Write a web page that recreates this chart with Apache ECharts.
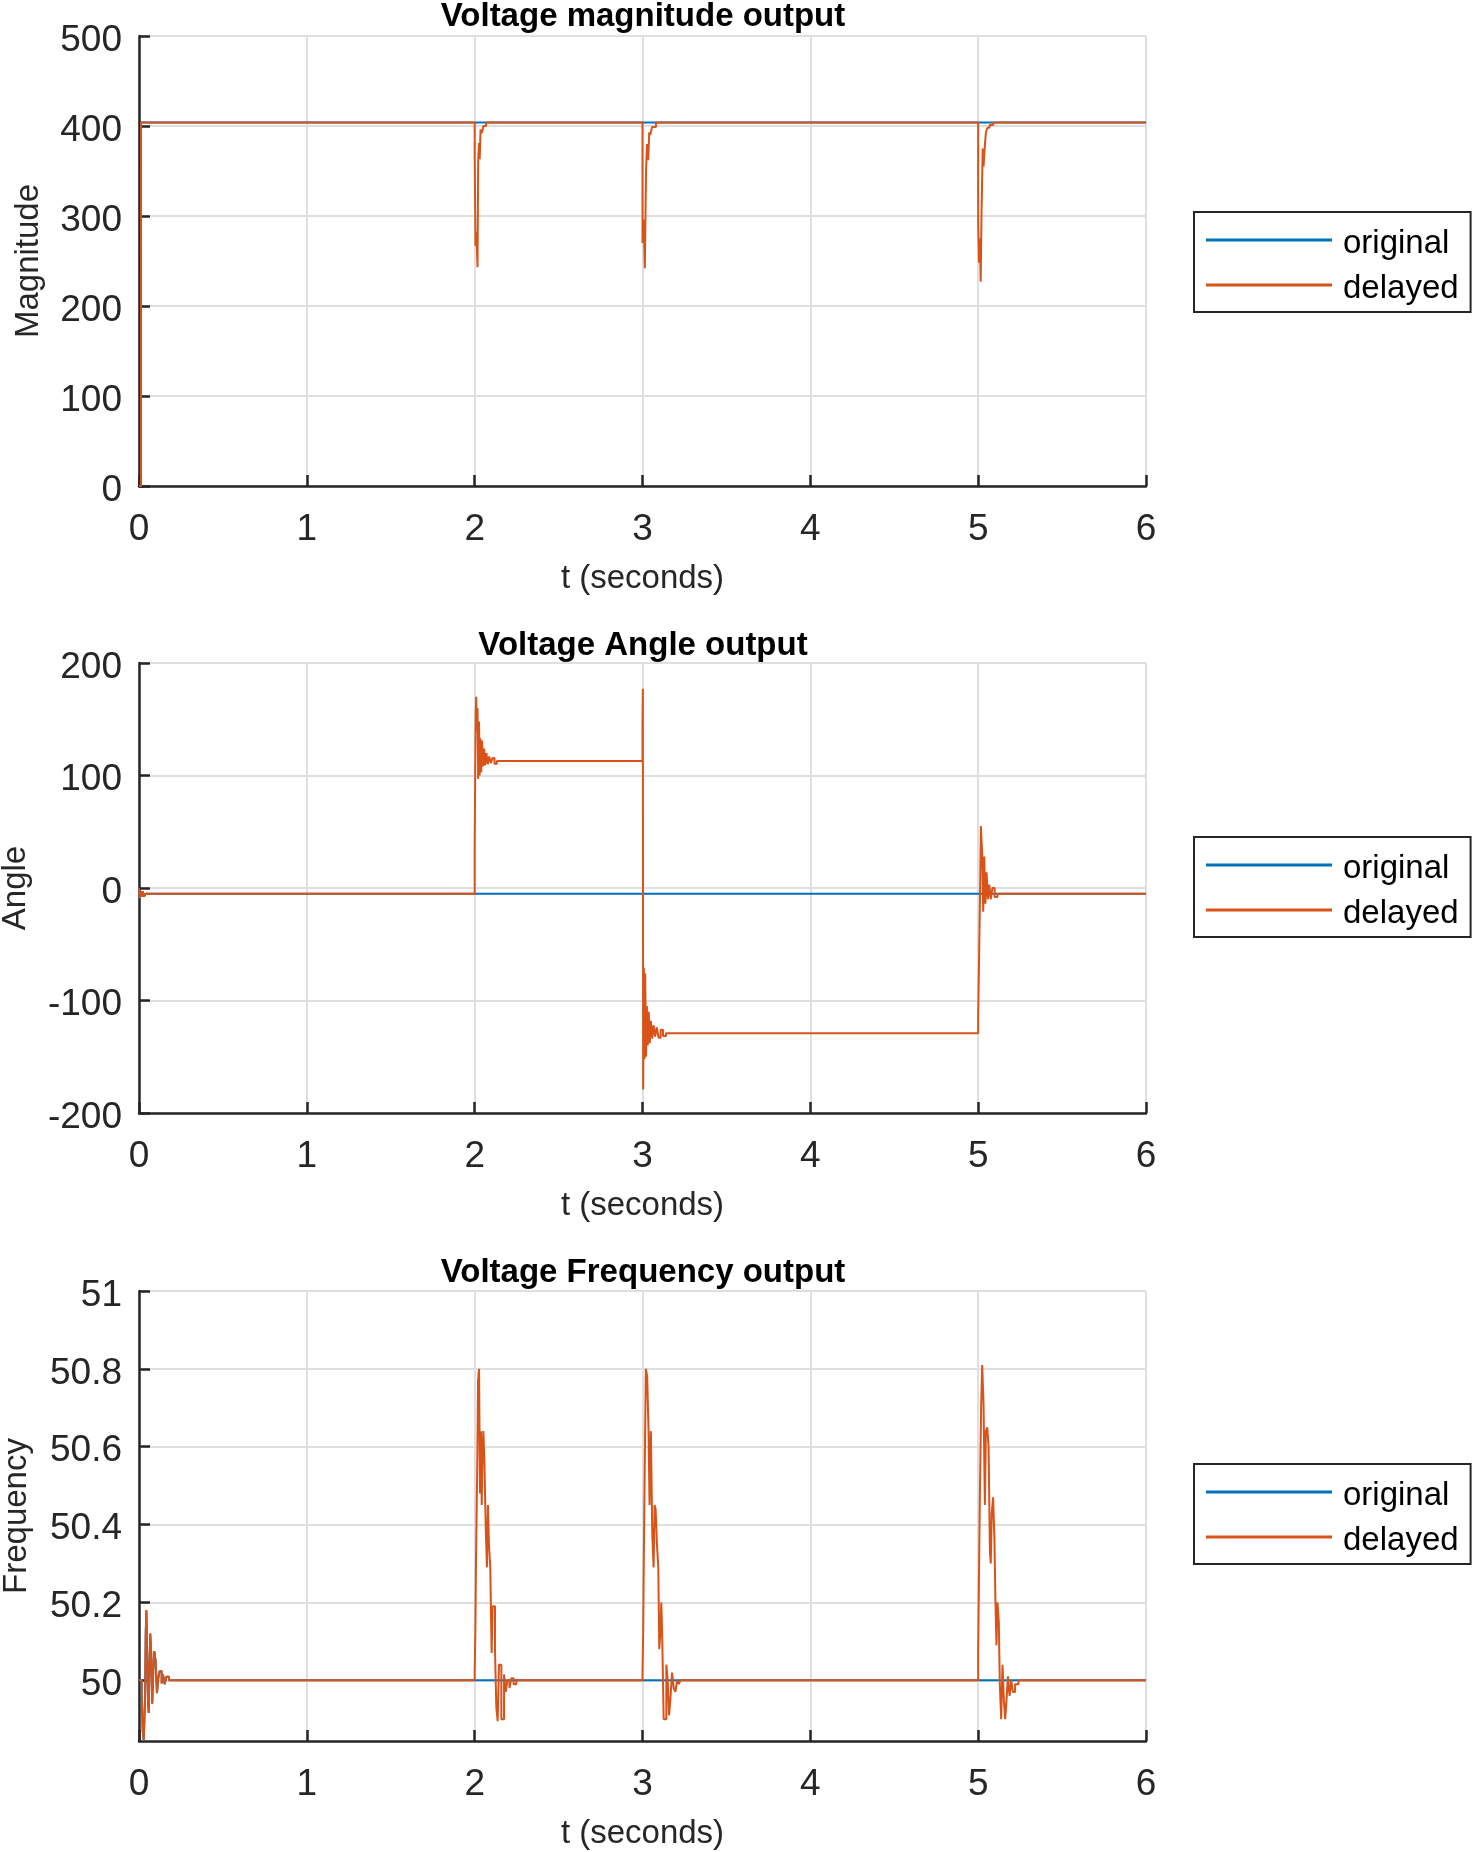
<!DOCTYPE html>
<html>
<head>
<meta charset="utf-8">
<title>Voltage outputs</title>
<script src="https://cdn.jsdelivr.net/npm/echarts@6/dist/echarts.min.js"></script>
<style>
  html, body { margin: 0; padding: 0; background: #fff; }
  #chart { width: 1474px; height: 1852px; }
</style>
</head>
<body>
<div id="chart"></div>
<script>
// time axis
const timeTicks = [0, 1, 2, 3, 4, 5, 6];

// magnitude (V)
const magOrigT = [0, 0.012, 6];
const magOrigV = [0, 404, 404];
const magDelT = [0, 0.012,
  2.000, 2.005, 2.009, 2.013, 2.017, 2.021, 2.026, 2.030, 2.035, 2.042, 2.052, 2.068,
  3.000, 3.005, 3.010, 3.014, 3.021, 3.027, 3.034, 3.040, 3.046, 3.057, 3.080,
  5.000, 5.005, 5.011, 5.015, 5.020, 5.027, 5.032, 5.041, 5.046, 5.055, 5.068, 5.090, 6];
const magDelV = [0, 404,
  370, 267, 282, 265, 243, 362, 381, 363, 396, 392, 400, 404,
  270, 296, 271, 242, 350, 380, 362, 393, 390, 399, 404,
  294, 248, 275, 227, 303, 375, 355, 381, 393, 398, 401, 404, 404];

// angle (deg)
const angStartT = [0, 0.005, 0.010, 0.016, 0.022, 0.030, 0.040];
const angStartV = [0, -9, -3, -7.5, -3, -7.5, -5];
const angOrigT = [6];
const angOrigV = [-5];
const angDelT = [
  2.000, 2.003, 2.006, 2.009, 2.013, 2.017, 2.021, 2.026, 2.030, 2.034, 2.039,
  2.044, 2.050, 2.056, 2.063, 2.070, 2.078, 2.087, 2.096, 2.106, 2.118, 2.132,
  3.000, 3.002, 3.004, 3.008, 3.012, 3.016, 3.021, 3.026, 3.031, 3.037,
  3.043, 3.050, 3.058, 3.066, 3.075, 3.085, 3.096, 3.108, 3.122, 3.140,
  5.000, 5.006, 5.012, 5.016, 5.024, 5.030, 5.036, 5.043,
  5.050, 5.058, 5.066, 5.075, 5.085, 5.098, 5.115, 6];
const angDelV = [
  35, 99, 153, 170, 140, 160, 97, 148, 100, 133, 103,
  131, 108, 124, 109, 120, 110, 117, 111, 115.5, 110.5, 113,
  144, 177, -179, -71, -152, -76, -150, -105, -140, -110,
  -138, -118, -134, -122, -132, -124, -133, -126, -131.5, -129,
  -116.5, -57, 4, 55, 30, -21, 28, -14,
  14, -10, 3, -10, 0, -8, -5, -5];

// frequency (Hz)
const freqTicks = [50, 50.2, 50.4, 50.6, 50.8, 51];
const freqStartT = [0, 0.016, 0.022, 0.028, 0.036, 0.040, 0.044, 0.048, 0.054, 0.058, 0.063, 0.067,
  0.073, 0.079, 0.085, 0.091, 0.099, 0.107, 0.115, 0.123, 0.135, 0.143, 0.153, 0.163, 0.179];
const freqStartV = [50, 49.97, 49.87, 49.846, 49.95, 50.12, 50.18, 50.08, 49.94, 49.916, 50.045, 50.12,
  50.066, 49.94, 50.023, 50.075, 50.05, 49.967, 50.006, 50.023, 49.992, 50.015, 49.99, 50.009, 50.0];
const freqOrigT = [6];
const freqOrigV = [50];
const freqDelT = [
  2.000, 2.004, 2.008, 2.016, 2.020, 2.026, 2.032, 2.038, 2.042, 2.046, 2.052, 2.058, 2.066,
  2.073, 2.079, 2.085, 2.093, 2.101, 2.107, 2.113, 2.121, 2.129, 2.137, 2.145, 2.151, 2.159,
  2.167, 2.175, 2.185, 2.195, 2.207, 2.218, 2.232, 2.248, 2.278,
  3.000, 3.004, 3.008, 3.014, 3.020, 3.028, 3.036, 3.042, 3.046, 3.050, 3.058, 3.066, 3.072,
  3.078, 3.086, 3.094, 3.100, 3.106, 3.112, 3.118, 3.126, 3.134, 3.142, 3.150, 3.158, 3.166,
  3.176, 3.186, 3.196, 3.206, 3.216, 3.226, 3.240, 3.260,
  5.000, 5.004, 5.010, 5.018, 5.024, 5.032, 5.040, 5.046, 5.054, 5.062, 5.070, 5.075, 5.081,
  5.089, 5.097, 5.103, 5.109, 5.115, 5.123, 5.129, 5.137, 5.145, 5.153, 5.161, 5.169, 5.177,
  5.187, 5.197, 5.207, 5.220, 5.240, 5.260, 6];
const freqDelV = [
  50.02, 50.12, 50.31, 50.57, 50.77, 50.80, 50.48, 50.64, 50.45, 50.57, 50.64, 50.56, 50.39,
  50.29, 50.45, 50.35, 50.29, 50.07, 50.19, 50.19, 50.08, 49.93, 49.895, 50.04, 50.04, 49.90,
  49.90, 50.015, 49.97, 50.0, 49.98, 50.005, 49.99, 50.0, 50.0,
  50.02, 50.12, 50.32, 50.57, 50.80, 50.78, 50.64, 50.45, 50.58, 50.64, 50.38, 50.29, 50.45,
  50.44, 50.35, 50.29, 50.08, 50.12, 50.20, 50.10, 49.90, 49.90, 50.04, 50.0, 49.91, 49.95,
  50.02, 49.98, 49.97, 50.0, 49.99, 50.0, 50.0, 50.0,
  50.07, 50.23, 50.47, 50.71, 50.81, 50.71, 50.45, 50.64, 50.65, 50.60, 50.33, 50.30, 50.43,
  50.47, 50.36, 50.20, 50.09, 50.20, 50.15, 49.99, 49.90, 50.04, 49.95, 49.90, 49.95, 50.01,
  49.96, 50.0, 49.97, 49.99, 50.0, 50.0, 50.0];

const BLUE = '#0072BD';
const ORANGE = '#D95319';
const INK = '#262626';
const FONT = 'Liberation Sans, Arial, Helvetica, sans-serif';

const zip = (t, v) => t.map((x, i) => [x, v[i]]);

const chart = echarts.init(document.getElementById('chart'), null, { renderer: 'canvas' });

const tops = [36, 663, 1291];
const plotH = 450;

function xAx(i) {
  return {
    gridIndex: i, type: 'value', min: 0, max: 6, interval: 1,
    name: 't (seconds)', nameLocation: 'middle', nameGap: 76,
    nameTextStyle: { fontSize: 33, color: INK, fontFamily: FONT },
    axisLine: { onZero: false, lineStyle: { color: INK, width: 2.5 } },
    axisTick: { inside: true, length: 11, lineStyle: { color: INK, width: 2.5 } },
    axisLabel: { fontSize: 37, color: INK, margin: 25, fontFamily: FONT },
    splitLine: { show: true, lineStyle: { color: '#dfdfdf', width: 2 } }
  };
}

// top-aligned with a short line box so the digits sit just under the grid line
const yLabel = { fontSize: 37, color: INK, margin: 17, fontFamily: FONT, verticalAlign: 'top', lineHeight: 9 };

function yAx(i, name, gap, extra) {
  return Object.assign({
    gridIndex: i, type: 'value',
    name: name, nameLocation: 'middle', nameGap: gap,
    nameTextStyle: { fontSize: 33, color: INK, fontFamily: FONT },
    axisLine: { show: true, onZero: false, lineStyle: { color: INK, width: 2.5 } },
    axisTick: { show: true, inside: true, length: 11, lineStyle: { color: INK, width: 2.5 } },
    axisLabel: yLabel,
    splitLine: { show: true, lineStyle: { color: '#dfdfdf', width: 2 } }
  }, extra);
}

function line(name, color, i, data) {
  return {
    name: name, type: 'line', xAxisIndex: i, yAxisIndex: i,
    data: data, step: 'end', showSymbol: false, symbol: 'none',
    lineStyle: { color: color, width: 2 }, itemStyle: { color: color },
    emphasis: { disabled: true }
  };
}

// bar drawn at the top of a 126x10 icon box, so the text lands a bit lower
const legendIcon = 'path://M0,0H126V3H0Z M0,9.98H126V10H0Z';

function legend(top) {
  return {
    data: ['original', 'delayed'], orient: 'vertical', left: 1194, top: top,
    icon: legendIcon, itemWidth: 126, itemHeight: 10, itemGap: 12, symbolKeepAspect: false,
    padding: [15, 12, 7, 12], borderColor: INK, borderWidth: 2,
    selectedMode: false,
    textStyle: { fontSize: 33, color: '#000', fontFamily: FONT, lineHeight: 33, padding: [0, 0, 0, 6] }
  };
}

const titleStyle = { fontSize: 33, fontWeight: 'bold', color: '#000', fontFamily: FONT };

chart.setOption({
  animation: false,
  backgroundColor: '#fff',
  title: [
    { text: 'Voltage magnitude output', left: 643, top: 0, textAlign: 'center', padding: 0, textStyle: titleStyle },
    { text: 'Voltage Angle output', left: 643, top: 629, textAlign: 'center', padding: 0, textStyle: titleStyle },
    { text: 'Voltage Frequency output', left: 643, top: 1256, textAlign: 'center', padding: 0, textStyle: titleStyle }
  ],
  legend: [legend(212), legend(837), legend(1464)],
  grid: tops.map(t => ({ left: 139, top: t, width: 1007, height: plotH, containLabel: false, outerBoundsMode: 'none' })),
  xAxis: [xAx(0), xAx(1), xAx(2)],
  yAxis: [
    yAx(0, 'Magnitude', 94, { min: 0, max: 500, interval: 100 }),
    yAx(1, 'Angle', 107, { min: -200, max: 200, interval: 100 }),
    yAx(2, 'Frequency', 106, {
      min: 49.844, max: 51,
      axisLabel: Object.assign({}, yLabel, { customValues: freqTicks,
        formatter: v => String(+(+v).toFixed(1)) }),
      axisTick: { show: true, inside: true, length: 11, lineStyle: { color: INK, width: 2.5 }, customValues: freqTicks }
    })
  ],
  series: [
    line('original', BLUE, 0, zip(magOrigT, magOrigV)),
    line('delayed', ORANGE, 0, zip(magDelT, magDelV)),
    line('original', BLUE, 1, zip(angStartT.concat(angOrigT), angStartV.concat(angOrigV))),
    line('delayed', ORANGE, 1, zip(angStartT.concat(angDelT), angStartV.concat(angDelV))),
    line('original', BLUE, 2, zip(freqStartT.concat(freqOrigT), freqStartV.concat(freqOrigV))),
    line('delayed', ORANGE, 2, zip(freqStartT.concat(freqDelT), freqStartV.concat(freqDelV)))
  ]
});
</script>
</body>
</html>
